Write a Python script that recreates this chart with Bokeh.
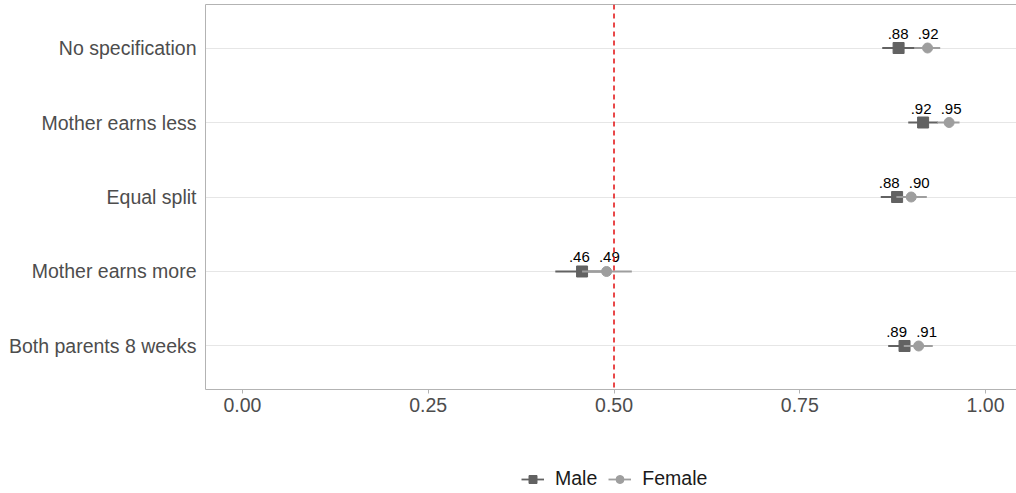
from bokeh.plotting import figure
from bokeh.layouts import column
from bokeh.models import FactorRange, Range1d, Span, Legend, LegendItem, LinearAxis, FixedTicker, ColumnDataSource
from bokeh.core.properties import value
from bokeh.embed import file_html
from bokeh.resources import INLINE

categories = ["No specification", "Mother earns less", "Equal split", "Mother earns more", "Both parents 8 weeks"]
male_est = [0.883, 0.916, 0.881, 0.457, 0.891]
male_lo = [0.861, 0.896, 0.859, 0.421, 0.869]
male_hi = [0.905, 0.936, 0.903, 0.492, 0.913]
female_est = [0.922, 0.951, 0.900, 0.490, 0.910]
female_lo = [0.904, 0.935, 0.880, 0.457, 0.890]
female_hi = [0.939, 0.965, 0.921, 0.524, 0.929]
x_ticks = [0.0, 0.25, 0.5, 0.75, 1.0]
x_tick_labels = ["0.00", "0.25", "0.50", "0.75", "1.00"]
reference_line = 0.5
series_names = ["Male", "Female"]

def lab(v):
    return f"{v:.2f}".lstrip("0")

FONT = "Liberation Sans"
MALE_C = "#626262"
FEMALE_C = "#9e9e9e"
AXIS_C = "#b3b3b3"

W = 1016
H_MAIN = 455
B_LEFT = 205
B_TOP = 4
B_BOTTOM = 66
X0, X1 = -0.0498, 1.0417

p = figure(width=W, height=H_MAIN, output_backend="svg", toolbar_location=None,
           y_range=FactorRange(factors=list(reversed(categories)), range_padding=0.084,
                               range_padding_units="absolute"),
           x_range=Range1d(X0, X1),
           min_border_left=B_LEFT, min_border_right=0, min_border_top=B_TOP, min_border_bottom=B_BOTTOM)
p.outline_line_color = None
p.background_fill_color = "white"
p.border_fill_color = "white"

p.xgrid.grid_line_color = None
p.ygrid.grid_line_color = "#e6e6e6"
p.ygrid.grid_line_width = 1

p.xaxis.ticker = FixedTicker(ticks=x_ticks)
p.xaxis.major_label_overrides = {t: l for t, l in zip(x_ticks, x_tick_labels)}
p.xaxis.minor_tick_line_color = None
p.xaxis.major_tick_out = 4
p.xaxis.major_tick_in = 0
p.xaxis.major_tick_line_color = AXIS_C
p.xaxis.axis_line_color = AXIS_C
p.xaxis.major_label_standoff = 4
p.xaxis.major_label_text_font = FONT
p.xaxis.major_label_text_font_size = "19.5px"
p.xaxis.major_label_text_color = "#4d4d4d"

p.yaxis.major_tick_line_color = None
p.yaxis.major_tick_out = 0
p.yaxis.axis_line_color = AXIS_C
p.yaxis.major_label_standoff = 9
p.yaxis.major_label_text_font = FONT
p.yaxis.major_label_text_font_size = "19.5px"
p.yaxis.major_label_text_color = "#4d4d4d"

top_axis = LinearAxis(ticker=FixedTicker(ticks=[]), axis_line_color=AXIS_C,
                      major_tick_line_color=None, minor_tick_line_color=None,
                      major_label_text_font_size="0px", major_label_standoff=0,
                      major_tick_out=0)
p.add_layout(top_axis, "above")

p.add_layout(Span(location=reference_line, dimension="height", line_color="#e31a1c",
                  line_dash="5 4", line_width=1.6))

# simple label repel: push paired labels apart if they would overlap
px_per_unit = (W - B_LEFT) / (X1 - X0)
min_gap = 30.0
m_off, f_off = [], []
for m, f in zip(male_est, female_est):
    gap = (f - m) * px_per_unit
    if gap < min_gap:
        d = (min_gap - gap) / 2
        m_off.append(-d)
        f_off.append(d)
    else:
        m_off.append(0.0)
        f_off.append(0.0)

msrc = ColumnDataSource(dict(y=categories, x=male_est, lo=male_lo, hi=male_hi,
                             t=[lab(v) for v in male_est], dx=m_off))
fsrc = ColumnDataSource(dict(y=categories, x=female_est, lo=female_lo, hi=female_hi,
                             t=[lab(v) for v in female_est], dx=f_off))

p.segment(x0="lo", y0="y", x1="hi", y1="y", source=msrc, line_color=MALE_C, line_width=1.8)
p.scatter(x="x", y="y", source=msrc, marker="square", size=11, fill_color=MALE_C, line_color=MALE_C)
p.segment(x0="lo", y0="y", x1="hi", y1="y", source=fsrc, line_color=FEMALE_C, line_width=1.8)
p.scatter(x="x", y="y", source=fsrc, marker="circle", size=10, fill_color=FEMALE_C, line_color=FEMALE_C)

for src in (msrc, fsrc):
    p.text(x="x", y="y", text="t", source=src, text_align="center", text_baseline="alphabetic",
           x_offset="dx", y_offset=-14, text_font=value(FONT), text_font_size="15px",
           text_color="#000000")

# legend strip below the chart (frame aligned with the main panel).
# Key-only renderers: one hidden row placed outside the strip's visible range.
H_LEG = 493 - H_MAIN
lg = figure(width=W, height=H_LEG, output_backend="svg", toolbar_location=None,
            x_range=Range1d(0, 1), y_range=Range1d(0, 1), x_axis_type=None, y_axis_type=None,
            min_border_left=B_LEFT, min_border_right=0, min_border_top=0, min_border_bottom=0)
lg.outline_line_color = None
lg.xgrid.visible = False
lg.ygrid.visible = False
key_m = ColumnDataSource(dict(x=[-5], y=[-5], x0=[-5], x1=[-5]))
key_f = ColumnDataSource(dict(x=[-5], y=[-5], x0=[-5], x1=[-5]))
lm_seg = lg.segment(x0="x0", y0="y", x1="x1", y1="y", source=key_m, line_color=MALE_C, line_width=1.8)
lm_pt = lg.scatter(x="x", y="y", source=key_m, marker="square", size=10, fill_color=MALE_C, line_color=MALE_C)
lf_seg = lg.segment(x0="x0", y0="y", x1="x1", y1="y", source=key_f, line_color=FEMALE_C, line_width=1.8)
lf_pt = lg.scatter(x="x", y="y", source=key_f, marker="circle", size=9, fill_color=FEMALE_C, line_color=FEMALE_C)

legend = Legend(items=[LegendItem(label=series_names[0], renderers=[lm_seg, lm_pt]),
                       LegendItem(label=series_names[1], renderers=[lf_seg, lf_pt])],
                location=(316, 3), orientation="horizontal",
                label_text_font=FONT, label_text_font_size="19.5px", label_text_color="#1a1a1a",
                glyph_width=23, glyph_height=20, label_height=20, label_standoff=11, spacing=11,
                padding=0, margin=0, border_line_color=None, background_fill_alpha=0)
lg.add_layout(legend, "center")

layout = column(p, lg, spacing=0)
open("out.html", "w").write(file_html(layout, INLINE))
